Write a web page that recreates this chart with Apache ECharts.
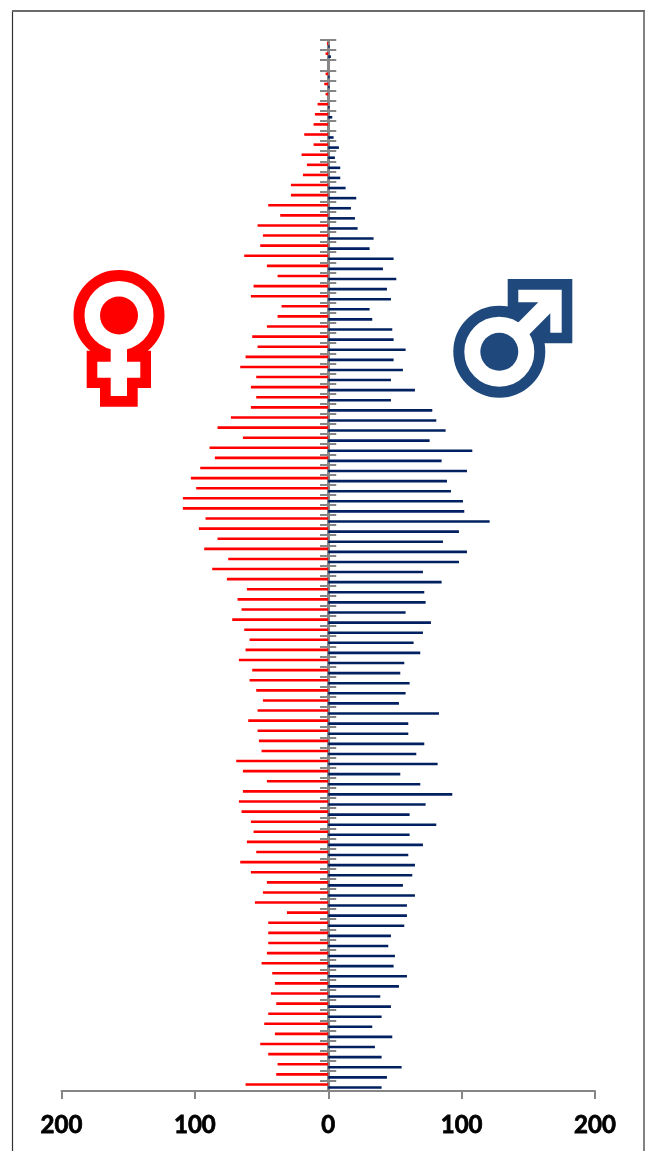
<!DOCTYPE html>
<html>
<head>
<meta charset="utf-8">
<style>html,body{margin:0;padding:0;background:#fff}#c{width:649px;height:1151px}</style>
<script src="https://cdn.jsdelivr.net/npm/echarts@6/dist/echarts.min.js"></script>
</head>
<body>
<div id="c"></div>
<script>
var ages = [103,102,101,100,99,98,97,96,95,94,93,92,91,90,89,88,87,86,85,84,83,82,81,80,79,78,77,76,75,74,73,72,71,70,69,68,67,66,65,64,63,62,61,60,59,58,57,56,55,54,53,52,51,50,49,48,47,46,45,44,43,42,41,40,39,38,37,36,35,34,33,32,31,30,29,28,27,26,25,24,23,22,21,20,19,18,17,16,15,14,13,12,11,10,9,8,7,6,5,4,3,2,1,0];
var female = [1,2,0,2,3,2,8,10,11,18,11,20,16,19,28,28,45,36,53,49,51,63,46,38,56,
58,35,38,46,57,53,62,66,54,58,54,58,73,83,64,89,85,96,103,99,109,109,92,97,83,93,75,
87,76,61,68,65,72,63,59,62,67,57,59,54,49,53,60,53,52,50,69,64,46,64,67,65,58,
56,61,54,66,58,46,49,55,31,45,45,45,46,50,42,40,43,39,45,48,40,51,45,38,39,62];
var male = [1,2,0,1,1,0,1,3,0,4,8,5,9,9,13,21,17,20,22,34,31,49,41,51,44,
47,31,33,48,49,58,49,56,47,65,47,78,81,88,76,108,85,104,89,92,101,102,121,98,86,104,98,
71,85,72,73,58,77,71,64,69,57,54,61,58,53,83,60,60,72,66,82,54,69,93,73,61,81,
61,71,60,65,63,56,65,59,59,57,47,45,50,49,59,53,39,47,40,33,48,35,40,55,44,40];
var xTicks = {min:-200, max:200, step:100};

var RED='#ff0000', ICON_BLUE='#1f497d', BAR_BLUE='#002060', GREY='#868686';
var femaleBody=[[86.7,350.7],[86.7,388],[100,388],[100,406.7],[137.7,406.7],[137.7,388],[151,388],[151,350.7]];
var femaleCross=[[97.3,361.7],[110.7,361.7],[110.7,340],[127,340],[127,361.7],[140.3,361.7],[140.3,377.7],[127,377.7],[127,396],[110.7,396],[110.7,377.7],[97.3,377.7]];
var maleBody=[[507.7,279],[572.3,279],[572.3,343.3],[542,343.3],[507.7,306.7]];
var maleArrow=[[518.3,289.7],[561.7,289.7],[561.7,332.7],[550.3,332.7],[550.3,313.3],[529.7,334],[526,339],[512,325],[519,321.7],[538.3,302.3],[518.3,302.3]];

var chart = echarts.init(document.getElementById('c'), null, {renderer:'canvas'});
function yAxis(inside, extra){
  var a = {
    type:'category', data:ages, inverse:true, position:'left', boundaryGap:true,
    axisLine:{show:true, onZero:!extra, lineStyle:{color:GREY,width:2}},
    axisTick:{show:true, interval:0, inside:inside, length:8, lineStyle:{color:GREY,width:2}},
    axisLabel:{show:false}, splitLine:{show:false}
  };
  if (extra) a.offset = -266.5;
  return a;
}
chart.setOption({
  animation:false,
  backgroundColor:'#fff',
  grid:{left:61.5, right:54, top:40, height:1051, containLabel:false},
  xAxis:{
    type:'value', min:xTicks.min, max:xTicks.max, interval:xTicks.step, position:'bottom',
    axisLine:{show:true, onZero:false, lineStyle:{color:GREY,width:2}},
    axisTick:{show:true, length:8, lineStyle:{color:GREY,width:2}},
    axisLabel:{margin:22, color:'#000', fontFamily:'Lato', fontWeight:'bold', fontSize:24,
      textBorderColor:'#000', textBorderWidth:0.8,
      formatter:function(v){return String(Math.abs(v));}},
    splitLine:{show:false}
  },
  yAxis:[yAxis(false,true), yAxis(true,false)],
  series:[
    {name:'Female', type:'bar', yAxisIndex:0, barWidth:2.6, barGap:'15%', itemStyle:{color:RED},
     data:female.map(function(v){return -v;})},
    {name:'Male', type:'bar', yAxisIndex:0, barWidth:2.6, barGap:'15%', itemStyle:{color:BAR_BLUE},
     data:male}
  ],
  graphic:[
    {type:'rect', z:-1, shape:{x:12.5,y:11,width:631.5,height:1160}, style:{fill:'none',stroke:'#333',lineWidth:1.2}},
    {type:'line', z:-1, shape:{x1:12,y1:11,x2:645,y2:11}, style:{stroke:'#6b6b6b',lineWidth:2}},
    {type:'polygon', shape:{points:femaleBody}, style:{fill:RED}},
    {type:'circle', shape:{cx:119,cy:315.5,r:40}, style:{fill:'#fff',stroke:RED,lineWidth:11}},
    {type:'polygon', shape:{points:femaleCross}, style:{fill:'#fff'}},
    {type:'circle', shape:{cx:119,cy:315.5,r:19}, style:{fill:RED}},
    {type:'polygon', shape:{points:maleBody}, style:{fill:ICON_BLUE}},
    {type:'circle', shape:{cx:499.3,cy:351.7,r:40.5}, style:{fill:'#fff',stroke:ICON_BLUE,lineWidth:11}},
    {type:'polygon', shape:{points:maleArrow}, style:{fill:'#fff'}},
    {type:'circle', shape:{cx:499.3,cy:351.7,r:19}, style:{fill:ICON_BLUE}}
  ]
});
</script>
</body>
</html>
